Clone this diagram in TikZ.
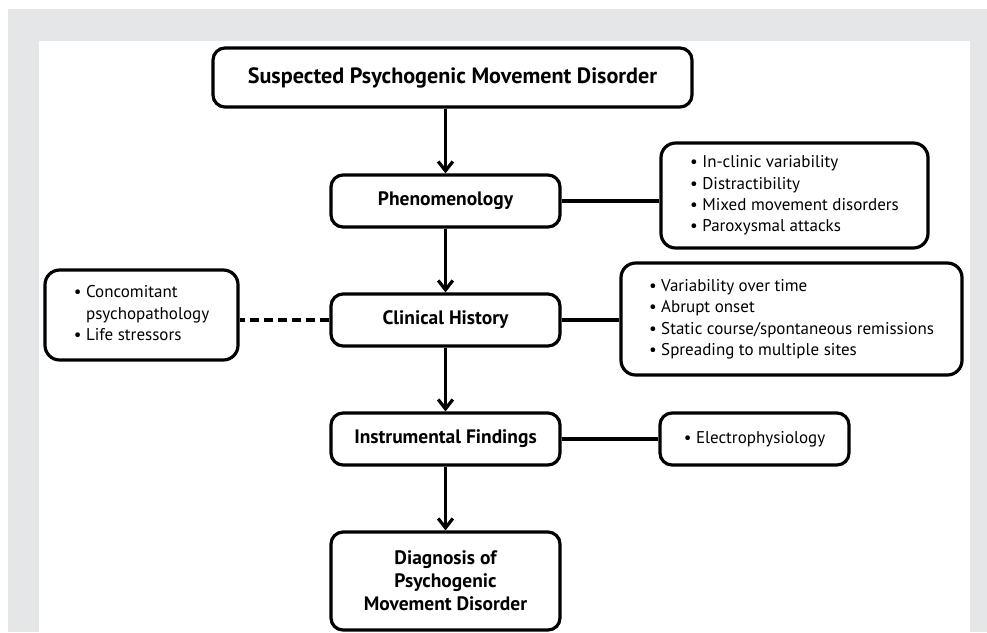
\documentclass[tikz,border=0pt]{standalone}
\usepackage{fontspec}
\setmainfont{PT Sans}
\usetikzlibrary{arrows.meta}
\definecolor{framegray}{RGB}{229,230,231}

\begin{document}
\begin{tikzpicture}[x=0.75pt,y=-0.75pt,
        stagebox/.style={draw,line width=2.4pt,rounded corners=9pt,inner sep=0pt,
            minimum width=171.75pt,minimum height=39pt,align=center,
            font=\fontsize{14.6}{17.25}\selectfont\bfseries},
        listbox/.style={draw,line width=2.4pt,rounded corners=11pt,inner sep=0pt,
            font=\fontsize{12.75}{16.1}\selectfont},
        flow/.style={line width=2.4pt,-{Straight Barb[length=7pt,width=11pt]}},
        link/.style={line width=2.4pt}]
        % frame
        \fill[white] (0,0) rectangle (987,632);
        \useasboundingbox (0,0) rectangle (987,632);
        \fill[framegray] (8,9) rectangle (987,632);
        \fill[white] (39,41) rectangle (970,632);
        % main column
        \node[stagebox,minimum width=359.25pt,minimum height=44.25pt,
            font=\fontsize{16.6}{19}\selectfont\bfseries] (suspected) at (452.5,77.5)
            {Suspected Psychogenic Movement Disorder};
        \node[stagebox] (phenom) at (445.5,201) {Phenomenology};
        \node[stagebox] (history) at (445.5,320) {Clinical History};
        \node[stagebox] (instrum) at (445.5,439) {Instrumental Findings};
        \node[stagebox,minimum height=73.5pt] (diagnosis) at (445.5,581)
            {Diagnosis of\\Psychogenic\\Movement Disorder};
        % side lists
        \node[listbox,minimum width=200.25pt,minimum height=78.75pt] (phenomlist) at (794.5,195.5)
            {\begin{tabular}{@{}l@{\ }l@{}}
            • & In-clinic variability\\
            • & Distractibility\\
            • & Mixed movement disorders\\
            • & Paroxysmal attacks
            \end{tabular}};
        \node[listbox,minimum width=255.75pt,minimum height=84pt] (historylist) at (791.5,319)
            {\begin{tabular}{@{}l@{\ }l@{}}
            • & Variability over time\\
            • & Abrupt onset\\
            • & Static course/spontaneous remissions\\
            • & Spreading to multiple sites
            \end{tabular}};
        \node[listbox,minimum width=144.75pt,minimum height=67.5pt] (psychlist) at (141.5,315)
            {\begin{tabular}{@{}l@{\ }l@{}}
            • & Concomitant\\
              & psychopathology\\
            • & Life stressors
            \end{tabular}};
        \node[listbox,rounded corners=9pt,minimum width=141.75pt,minimum height=39pt] (instrumlist) at (754.5,439)
            {\begin{tabular}{@{}l@{\ }l@{}}
            • & Electrophysiology
            \end{tabular}};
        % connectors
        \draw[flow] (phenom.north |- suspected.south) -- (phenom.north);
        \draw[flow] (phenom) -- (history);
        \draw[flow] (history) -- (instrum);
        \draw[flow] (instrum) -- (diagnosis);
        \draw[link] (phenom.east) -- (phenom.east -| phenomlist.west);
        \draw[link] (history.east) -- (history.east -| historylist.west);
        \draw[link] (instrum) -- (instrumlist);
        \draw[link,dash pattern=on 7pt off 3.5pt] (history.west) -- (history.west -| psychlist.east);
    \end{tikzpicture}
\end{document}
